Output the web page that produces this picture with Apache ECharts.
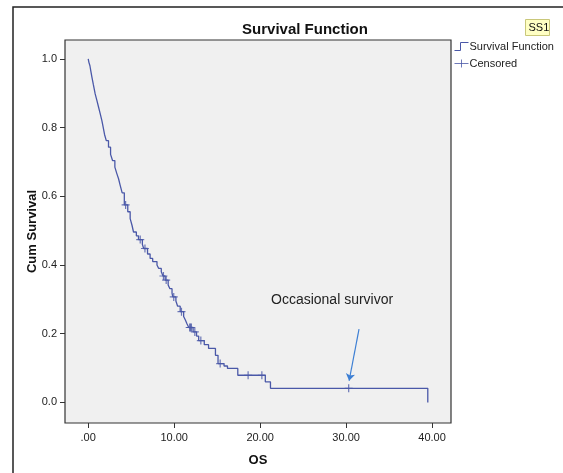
<!DOCTYPE html>
<html>
<head>
<meta charset="utf-8">
<script src="https://cdn.jsdelivr.net/npm/echarts@6/dist/echarts.min.js"></script>
<style>
  html, body { margin: 0; padding: 0; background: #fff; }
  #chart { width: 563px; height: 473px; }
</style>
</head>
<body>
<div id="chart"></div>
<script>
// Kaplan-Meier estimate: survival after each event time
var eventTimes = [0, 0.08, 0.2, 0.3, 0.43, 0.6, 0.81, 1.0, 1.2, 1.4, 1.59, 1.75, 1.9, 2.1, 2.36, 2.6, 2.83, 3.1, 3.33, 3.53, 3.72, 3.95, 4.2,
  4.6, 4.88, 5.1, 5.27, 5.6, 5.85, 6.3, 6.45, 6.9, 7.2, 7.5, 8.0, 8.2, 8.5, 8.7, 8.95, 9.3, 9.5, 9.75, 9.84,
  10.2, 10.4, 10.7, 11.1, 11.3, 11.5, 11.7, 12.2, 12.6, 12.85, 13.5, 14.0, 14.8, 15.1, 15.8, 16.2, 17.4,
  20.6, 21.2, 39.5]
var survival = [1.0, 0.99, 0.98, 0.965, 0.947, 0.925, 0.898, 0.88, 0.86, 0.84, 0.82, 0.80, 0.78, 0.762, 0.743, 0.722, 0.704, 0.685, 0.666, 0.651, 0.632, 0.61, 0.575,
  0.555, 0.535, 0.515, 0.496, 0.485, 0.474, 0.46, 0.448, 0.432, 0.419, 0.41, 0.40, 0.39, 0.38, 0.368, 0.356, 0.342, 0.331, 0.318, 0.307,
  0.295, 0.28, 0.264, 0.25, 0.24, 0.228, 0.218, 0.205, 0.193, 0.18, 0.168, 0.157, 0.137, 0.113, 0.106, 0.099, 0.079,
  0.06, 0.041, 0]

// censored cases
var censoredTimes = [4.35, 6.05, 6.6, 8.75, 9.07, 9.95, 10.85, 11.8, 11.9, 12.0, 12.4, 13.1, 15.35, 18.6, 20.2, 30.3]
var censoredSurv = [0.575, 0.474, 0.448, 0.368, 0.356, 0.307, 0.264, 0.218, 0.218, 0.218, 0.205, 0.18, 0.113, 0.079, 0.079, 0.041]

var xTicks = [0, 10, 20, 30, 40]
var yTicks = [0, 0.2, 0.4, 0.6, 0.8, 1.0]

// arrow pointing at the long-term survivor
var arrowFrom = [31.5, 0.213]
var arrowTo = [30.35, 0.063]

var lineColor = '#4a58a8'
var font = "'Liberation Sans', Arial, sans-serif"

var chart = echarts.init(document.getElementById('chart'))

var curve = eventTimes.map(function (t, i) { return [t, survival[i]] })
var censored = censoredTimes.map(function (t, i) { return [t, censoredSurv[i]] })

chart.setOption({
  backgroundColor: '#fff',
  animation: false,
  title: {
    text: 'Survival Function',
    left: 300,
    textAlign: 'center',
    top: 17,
    textStyle: { fontFamily: font, fontSize: 15, fontWeight: 'bold', color: '#111' }
  },
  legend: {
    orient: 'vertical',
    left: 452,
    top: 40,
    padding: 0,
    itemWidth: 14,
    itemHeight: 9,
    itemGap: 4,
    textStyle: { fontFamily: font, fontSize: 11, color: '#222', padding: [0, 0, 0, -4] },
    data: [
      { name: 'Survival Function', icon: 'path://M0,9L6,9L6,1L14,1', itemStyle: { color: 'none', borderColor: lineColor, borderWidth: 1 } },
      { name: 'Censored', icon: 'path://M0,5L14,5M7,1L7,9', itemStyle: { color: 'none', borderColor: lineColor, borderWidth: 1 } }
    ]
  },
  grid: {
    left: 65,
    right: 112,
    top: 40,
    bottom: 50,
    show: true,
    backgroundColor: '#f0f0f0',
    borderColor: '#333',
    borderWidth: 1.2
  },
  xAxis: {
    type: 'value',
    min: -2.7,
    max: 42.2,
    name: 'OS',
    nameLocation: 'middle',
    nameGap: 31,
    nameMoveOverlap: false,
    nameTextStyle: { fontFamily: font, fontSize: 13, fontWeight: 'bold', color: '#111' },
    axisLine: { show: false, onZero: false },
    axisTick: { show: true, length: 5, lineStyle: { color: '#333' }, customValues: xTicks },
    axisLabel: {
      fontFamily: font, fontSize: 11, color: '#222', margin: 9,
      customValues: xTicks,
      formatter: function (v) { return v === 0 ? '.00' : v.toFixed(2) }
    },
    splitLine: { show: false }
  },
  yAxis: {
    type: 'value',
    min: -0.06,
    max: 1.055,
    name: 'Cum Survival',
    nameLocation: 'middle',
    nameGap: 26,
    nameMoveOverlap: false,
    nameTextStyle: { fontFamily: font, fontSize: 13, fontWeight: 'bold', color: '#111' },
    axisLine: { show: false, onZero: false },
    axisTick: { show: true, length: 5, lineStyle: { color: '#333' }, customValues: yTicks },
    axisLabel: {
      fontFamily: font, fontSize: 11, color: '#222', margin: 8,
      customValues: yTicks,
      formatter: function (v) { return v.toFixed(1) }
    },
    splitLine: { show: false }
  },
  series: [
    {
      name: 'Survival Function',
      type: 'line',
      step: 'end',
      data: curve,
      symbol: 'none',
      lineStyle: { color: lineColor, width: 1.3 },
      itemStyle: { color: lineColor },
      markLine: {
        silent: true,
        symbol: ['none', 'arrow'],
        symbolSize: 7,
        label: { show: false },
        lineStyle: { color: '#3d7fd4', width: 1.2, type: 'solid' },
        data: [[{ coord: arrowFrom }, { coord: arrowTo }]]
      }
    },
    {
      name: 'Censored',
      type: 'scatter',
      data: censored,
      symbol: 'path://M0,4L8,4M4,0L4,8',
      symbolSize: 8,
      itemStyle: { color: 'none', borderColor: lineColor, borderWidth: 1.2 }
    }
  ],
  graphic: [
    // outer chart frame
    { type: 'rect', shape: { x: 13, y: 7, width: 600, height: 500 }, style: { fill: 'none', stroke: '#222', lineWidth: 1.5 }, silent: true },
    {
      type: 'group', left: 525, top: 19, children: [
        { type: 'rect', shape: { width: 24, height: 16 }, style: { fill: '#ffffc4', stroke: '#c9c77a', lineWidth: 1 } },
        { type: 'text', left: 3, top: 3, style: { text: 'SS1', font: '11px ' + font, fill: '#111' } }
      ]
    },
    { type: 'text', left: 271, top: 293, style: { text: 'Occasional survivor', font: '14px ' + font, fill: '#222' } }
  ]
})
</script>
</body>
</html>
